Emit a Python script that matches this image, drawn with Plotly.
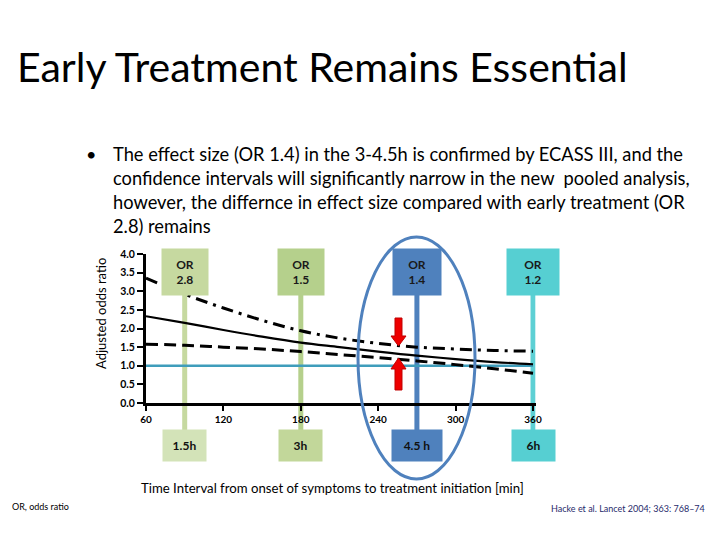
import plotly.graph_objects as go

# ---------------- data ----------------
time_min = [60, 90, 120, 150, 180, 210, 240, 270, 300, 330, 360]
or_estimate = [2.33, 2.15, 1.96, 1.78, 1.62, 1.50, 1.38, 1.27, 1.18, 1.10, 1.04]
ci_upper = [3.35, 2.92, 2.55, 2.22, 1.94, 1.74, 1.60, 1.50, 1.45, 1.41, 1.39]
ci_lower = [1.58, 1.55, 1.50, 1.45, 1.38, 1.30, 1.22, 1.13, 1.03, 0.92, 0.80]

ref_x = [60, 360]
ref_y = [1.0, 1.0]

window_min = [90, 180, 270, 360]
window_labels = ["1.5h", "3h", "4.5 h", "6h"]
window_or = ["OR<br>2.8", "OR<br>1.5", "OR<br>1.4", "OR<br>1.2"]
top_colors = ["#c6d9a0", "#b5d08c", "#4f81bd", "#56cfd2"]
bottom_colors = ["#d3e3b8", "#c2d79a", "#4f81bd", "#56cfd2"]
line_colors = ["#c6d9a0", "#b5d08c", "#4f81bd", "#5dd0d4"]
top_widths = [46, 46, 48, 52]
bottom_widths = [43, 43, 50, 43]

x_ticks = [60, 120, 180, 240, 300, 360]
y_ticks = [0.0, 0.5, 1.0, 1.5, 2.0, 2.5, 3.0, 3.5, 4.0]

W, H = 720, 540
FONT = "Lato"


def px(x):
    return x / W


def py(y):
    return 1 - y / H


fig = go.Figure()

fig.add_trace(go.Scatter(x=ref_x, y=ref_y, mode="lines",
                         line=dict(color="#3f9dbb", width=2.5),
                         hoverinfo="skip", showlegend=False))
fig.add_trace(go.Scatter(x=time_min, y=ci_upper, mode="lines",
                         line=dict(color="black", width=3, shape="spline",
                                   dash="12px,6px,3px,6px"),
                         showlegend=False))
fig.add_trace(go.Scatter(x=time_min, y=ci_lower, mode="lines",
                         line=dict(color="black", width=3, shape="spline",
                                   dash="12px,6px"),
                         showlegend=False))
fig.add_trace(go.Scatter(x=time_min, y=or_estimate, mode="lines",
                         line=dict(color="black", width=2.2, shape="spline"),
                         showlegend=False))

shapes = []
annotations = []


def note(x, y, text, size, color="black", xanchor="center", xref="paper", **kw):
    d = dict(x=x, y=y, xref=xref, yref="paper", xanchor=xanchor, yanchor="middle",
             showarrow=False, text=text, font=dict(family=FONT, size=size, color=color))
    d.update(kw)
    annotations.append(d)


for xm, lab, orl, tc, bc, lc, tw, bw in zip(window_min, window_labels, window_or,
                                            top_colors, bottom_colors, line_colors,
                                            top_widths, bottom_widths):
    shapes.append(dict(type="line", xref="x", yref="paper", x0=xm, x1=xm,
                       y0=py(445), y1=py(272), layer="below",
                       line=dict(color=lc, width=5)))
    note(xm, py(271.5), "<b>" + orl + "</b>", 12, "#1a1a1a", xref="x",
         bgcolor=tc, width=tw, height=46, borderpad=0)
    note(xm, py(445.5), "<b>" + lab + "</b>", 12, "#111111", xref="x",
         bgcolor=bc, width=bw, height=31, borderpad=0)

shapes.append(dict(type="circle", xref="paper", yref="paper",
                   x0=px(358), x1=px(475), y0=py(479), y1=py(237),
                   line=dict(color="#4f81bd", width=3)))


def arrow_path(cx, y_tail, y_base, y_tip):
    sw, hw = 3.5, 7.5
    pts = [(cx - sw, y_tail), (cx + sw, y_tail), (cx + sw, y_base), (cx + hw, y_base),
           (cx, y_tip), (cx - hw, y_base), (cx - sw, y_base)]
    return "M " + " L ".join(f"{px(a):.5f},{py(b):.5f}" for a, b in pts) + " Z"


shapes.append(dict(type="path", xref="paper", yref="paper",
                   path=arrow_path(398.5, 318, 336, 346),
                   fillcolor="#ee0000", line=dict(color="#c00000", width=1)))
shapes.append(dict(type="path", xref="paper", yref="paper",
                   path=arrow_path(398.5, 390, 369, 358),
                   fillcolor="#ee0000", line=dict(color="#c00000", width=1)))

note(px(15), py(66), "Early Treatment Remains Essential", 41, xanchor="left")

bullet_lines = [
    "The effect size (OR 1.4) in the 3-4.5h is confirmed by ECASS III, and the",
    "confidence intervals will significantly narrow in the new  pooled analysis,",
    "however, the differnce in effect size compared with early treatment (OR",
    "2.8) remains",
]
note(px(84), py(154), "•", 18, xanchor="left")
for i, line in enumerate(bullet_lines):
    note(px(111), py(154 + 24 * i), line, 18.3, xanchor="left")

note(px(101), py(314), "Adjusted odds ratio", 13, textangle=-90)
note(px(332), py(488), "Time Interval from onset of symptoms to treatment initiation [min]", 13.2)
note(px(10), py(506), "OR, odds ratio", 9, xanchor="left")
note(px(707), py(509), "Hacke et al. Lancet 2004; 363: 768–74", 9, "#1f2a6b", xanchor="right")

fig.update_layout(
    width=W, height=H, autosize=False,
    margin=dict(l=0, r=0, t=0, b=0, pad=0),
    paper_bgcolor="white", plot_bgcolor="white",
    shapes=shapes, annotations=annotations,
    xaxis=dict(domain=[px(146), px(535.6)], range=[60, 362],
               tickvals=x_ticks, ticktext=["<b>%d</b>" % v for v in x_ticks],
               showgrid=False, zeroline=False, showline=True, automargin=False,
               linecolor="black", linewidth=3, ticks="outside",
               ticklen=5, tickwidth=2, tickcolor="black",
               tickfont=dict(family=FONT, size=10, color="black")),
    yaxis=dict(domain=[py(403), py(254)], range=[0, 4],
               tickvals=y_ticks, ticktext=["<b>%.1f</b>" % v for v in y_ticks],
               showgrid=False, zeroline=False, showline=True, automargin=False,
               linecolor="black", linewidth=3, ticks="outside",
               ticklen=6, tickwidth=2, tickcolor="black",
               tickfont=dict(family=FONT, size=10.5, color="black")),
)

fig.write_html("out.html",
               config={"responsive": False, "displayModeBar": False},
               post_script="document.body.style.margin='0';document.body.style.padding='0';")
